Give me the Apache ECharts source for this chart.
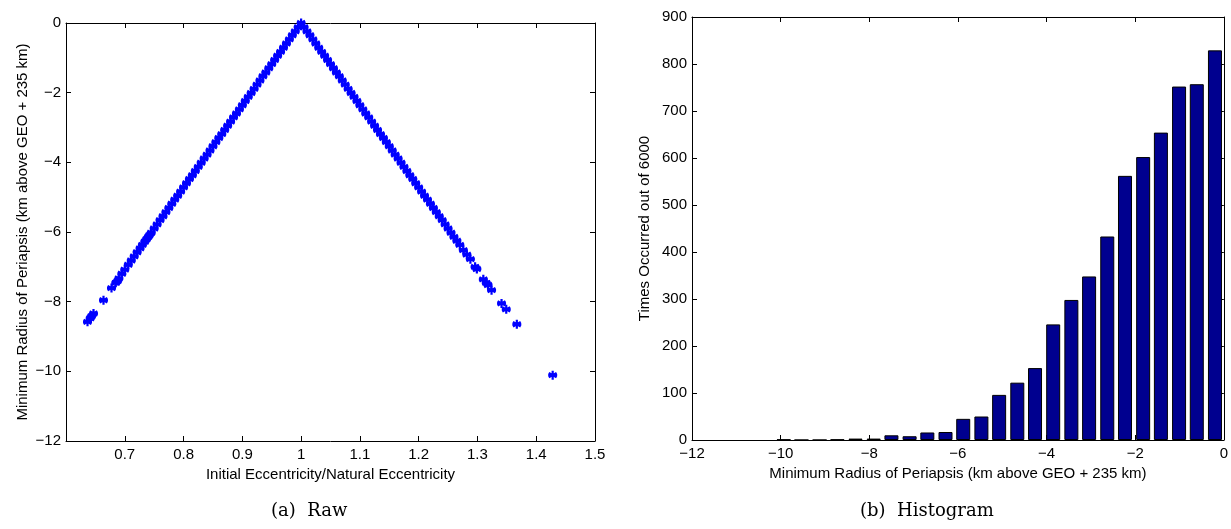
<!DOCTYPE html>
<html>
<head>
<meta charset="utf-8">
<script src="https://cdn.jsdelivr.net/npm/echarts@6/dist/echarts.min.js"></script>
<style>
html,body{margin:0;padding:0;background:#fff;}
#c{width:1231px;height:529px;}
</style>
</head>
<body>
<div id="c"></div>
<script>
// ---- Panel (a): raw scatter ----
const rawX = [
  0.6366, 0.6411, 0.6434, 0.6468, 0.6638, 0.6774, 0.6847, 0.6876, 0.690, 0.695, 0.700, 0.706, 0.711, 0.716, 0.721, 0.726, 0.730, 0.734, 0.737, 0.740, 0.742,
  0.745, 0.750, 0.755, 0.760, 0.765, 0.770, 0.775, 0.780, 0.785, 0.790, 0.795, 0.800, 0.805, 0.810, 0.815, 0.820, 0.825, 0.830, 0.835, 0.840,
  0.845, 0.850, 0.855, 0.860, 0.865, 0.870, 0.875, 0.880, 0.885, 0.890, 0.895, 0.900, 0.905, 0.910, 0.915, 0.920, 0.925, 0.930, 0.935, 0.940,
  0.945, 0.950, 0.955, 0.960, 0.965, 0.970, 0.975, 0.980, 0.985, 0.990, 0.995, 1.000,
  1.005, 1.010, 1.015, 1.020, 1.025, 1.030, 1.035, 1.040, 1.045, 1.050, 1.055, 1.060, 1.065, 1.070, 1.075, 1.080, 1.085, 1.090, 1.095, 1.100,
  1.105, 1.110, 1.115, 1.120, 1.125, 1.130, 1.135, 1.140, 1.145, 1.150, 1.155, 1.160, 1.165, 1.170, 1.175, 1.180, 1.185, 1.190, 1.195, 1.200,
  1.205, 1.210, 1.215, 1.220, 1.225, 1.230, 1.235, 1.240, 1.245, 1.250, 1.255, 1.260, 1.265, 1.270,
  1.276, 1.282, 1.288, 1.296, 1.299, 1.310, 1.315, 1.318, 1.324, 1.341, 1.349, 1.367, 1.428
];
const rawY = [
  -8.58, -8.48, -8.42, -8.34, -7.96, -7.61, -7.46, -7.41, -7.33, -7.20, -7.08, -6.94, -6.82, -6.70, -6.58, -6.47, -6.37, -6.28, -6.21, -6.14, -6.09,
  -6.02, -5.90, -5.78, -5.66, -5.55, -5.43, -5.31, -5.19, -5.07, -4.96, -4.84, -4.72, -4.60, -4.48, -4.37, -4.25, -4.13, -4.01, -3.89, -3.78,
  -3.66, -3.54, -3.42, -3.30, -3.19, -3.07, -2.95, -2.83, -2.71, -2.60, -2.48, -2.36, -2.24, -2.12, -2.01, -1.89, -1.77, -1.65, -1.53, -1.42,
  -1.30, -1.18, -1.06, -0.94, -0.83, -0.71, -0.59, -0.47, -0.35, -0.24, -0.12, 0.00,
  -0.12, -0.24, -0.35, -0.47, -0.59, -0.71, -0.83, -0.94, -1.06, -1.18, -1.30, -1.42, -1.53, -1.65, -1.77, -1.89, -2.01, -2.12, -2.24, -2.36,
  -2.48, -2.60, -2.71, -2.83, -2.95, -3.07, -3.19, -3.30, -3.42, -3.54, -3.66, -3.78, -3.89, -4.01, -4.13, -4.25, -4.37, -4.48, -4.60, -4.72,
  -4.84, -4.96, -5.07, -5.19, -5.31, -5.43, -5.55, -5.66, -5.78, -5.90, -6.02, -6.14, -6.25, -6.37,
  -6.52, -6.65, -6.78, -7.00, -7.06, -7.36, -7.46, -7.52, -7.67, -8.05, -8.22, -8.65, -10.11
];
const rawXTicks = [0.6, 0.7, 0.8, 0.9, 1.0, 1.1, 1.2, 1.3, 1.4, 1.5];

// ---- Panel (b): histogram ----
const binCenters = [-9.93, -9.53, -9.12, -8.72, -8.31, -7.90, -7.50, -7.09, -6.69, -6.28, -5.88, -5.47, -5.07,
  -4.66, -4.26, -3.85, -3.44, -3.04, -2.63, -2.23, -1.82, -1.42, -1.01, -0.61, -0.20];
const binCounts = [1, 0, 0, 1, 3, 3, 10, 8, 16, 17, 45, 50, 96, 122, 153, 246, 298, 348, 433, 562, 602, 654, 752, 757, 829];

const FONT = '"Liberation Sans", Arial, Helvetica, sans-serif';
const FS = 15;
const minus = v => String(v).replace('-', '\u2212');

const chart = echarts.init(document.getElementById('c'), null, {renderer: 'canvas'});

const lineStyle = {color: '#000', width: 1};
const labelStyle = {color: '#000', fontSize: FS, fontFamily: FONT};

function mainX(gi, min, max, interval, name, fmt, gap) {
  return {
    gridIndex: gi, type: 'value', min, max, interval, position: 'bottom',
    axisLine: {show: true, onZero: false, lineStyle},
    axisTick: {show: true, inside: true, length: 5, lineStyle},
    axisLabel: Object.assign({margin: 6, formatter: fmt}, labelStyle),
    splitLine: {show: false},
    name, nameLocation: 'middle', nameGap: 22,
    nameTextStyle: {color: '#000', fontSize: FS, fontFamily: FONT}
  };
}
function mirrorX(gi, min, max, interval) {
  return {
    gridIndex: gi, type: 'value', min, max, interval, position: 'top',
    axisLine: {show: true, onZero: false, lineStyle},
    axisTick: {show: true, inside: true, length: 5, lineStyle},
    axisLabel: {show: false}, splitLine: {show: false}
  };
}
function mainY(gi, min, max, interval, name, fmt, gap) {
  return {
    gridIndex: gi, type: 'value', min, max, interval, position: 'left',
    axisLine: {show: true, onZero: false, lineStyle},
    axisTick: {show: true, inside: true, length: 5, lineStyle},
    axisLabel: Object.assign({margin: 5, formatter: fmt}, labelStyle),
    splitLine: {show: false},
    name, nameLocation: 'middle', nameGap: gap, nameRotate: 90,
    nameTextStyle: {color: '#000', fontSize: FS, fontFamily: FONT}
  };
}
function mirrorY(gi, min, max, interval) {
  return {
    gridIndex: gi, type: 'value', min, max, interval, position: 'right',
    axisLine: {show: true, onZero: false, lineStyle},
    axisTick: {show: true, inside: true, length: 5, lineStyle},
    axisLabel: {show: false}, splitLine: {show: false}
  };
}

const star = 'path://M0,-5L0,5M-4.33,-2.5L4.33,2.5M-4.33,2.5L4.33,-2.5M-5,0L5,0';

const option = {
  backgroundColor: '#fff',
  animation: false,
  grid: [
    {left: 66, top: 23, width: 529, height: 418},
    {left: 692, top: 17, width: 533, height: 423}
  ],
  xAxis: [
    mainX(0, 0.6, 1.5, 0.1, 'Initial Eccentricity/Natural Eccentricity',
      v => (Math.abs(v - 0.6) < 1e-6 ? '' : (Math.abs(v - 1) < 1e-6 ? '1' : v.toFixed(1)))),
    mirrorX(0, 0.6, 1.5, 0.1),
    mainX(1, -12, 0, 2, 'Minimum Radius of Periapsis (km above GEO + 235 km)', v => minus(v)),
    mirrorX(1, -12, 0, 2)
  ],
  yAxis: [
    mainY(0, -12, 0, 2, 'Minimum Radius of Periapsis (km above GEO + 235 km)', v => minus(v), 36),
    mirrorY(0, -12, 0, 2),
    mainY(1, 0, 900, 100, 'Times Occurred out of 6000', v => String(v), 40),
    mirrorY(1, 0, 900, 100)
  ],
  series: [
    {
      type: 'scatter', xAxisIndex: 0, yAxisIndex: 0,
      data: rawX.map((x, i) => [x, rawY[i]]),
      symbol: star, symbolSize: 9,
      itemStyle: {color: 'rgba(0,0,0,0)', borderColor: '#0000ff', borderWidth: 2.2, opacity: 1},
      emphasis: {disabled: true}, silent: true, clip: false
    },
    {
      type: 'bar', xAxisIndex: 2, yAxisIndex: 2,
      data: binCenters.map((c, i) => [c, binCounts[i]]),
      barWidth: 14,
      itemStyle: {color: '#00008F', borderColor: '#000', borderWidth: 1},
      emphasis: {disabled: true}, silent: true
    }
  ],
  graphic: [
    {type: 'text', left: 271, top: 502, style: {text: '(a)  Raw', fill: '#000', font: '18px "DejaVu Serif", "Liberation Serif", serif'}},
    {type: 'text', left: 860, top: 502, style: {text: '(b)  Histogram', fill: '#000', font: '18px "DejaVu Serif", "Liberation Serif", serif'}}
  ]
};
chart.setOption(option);
</script>
</body>
</html>
